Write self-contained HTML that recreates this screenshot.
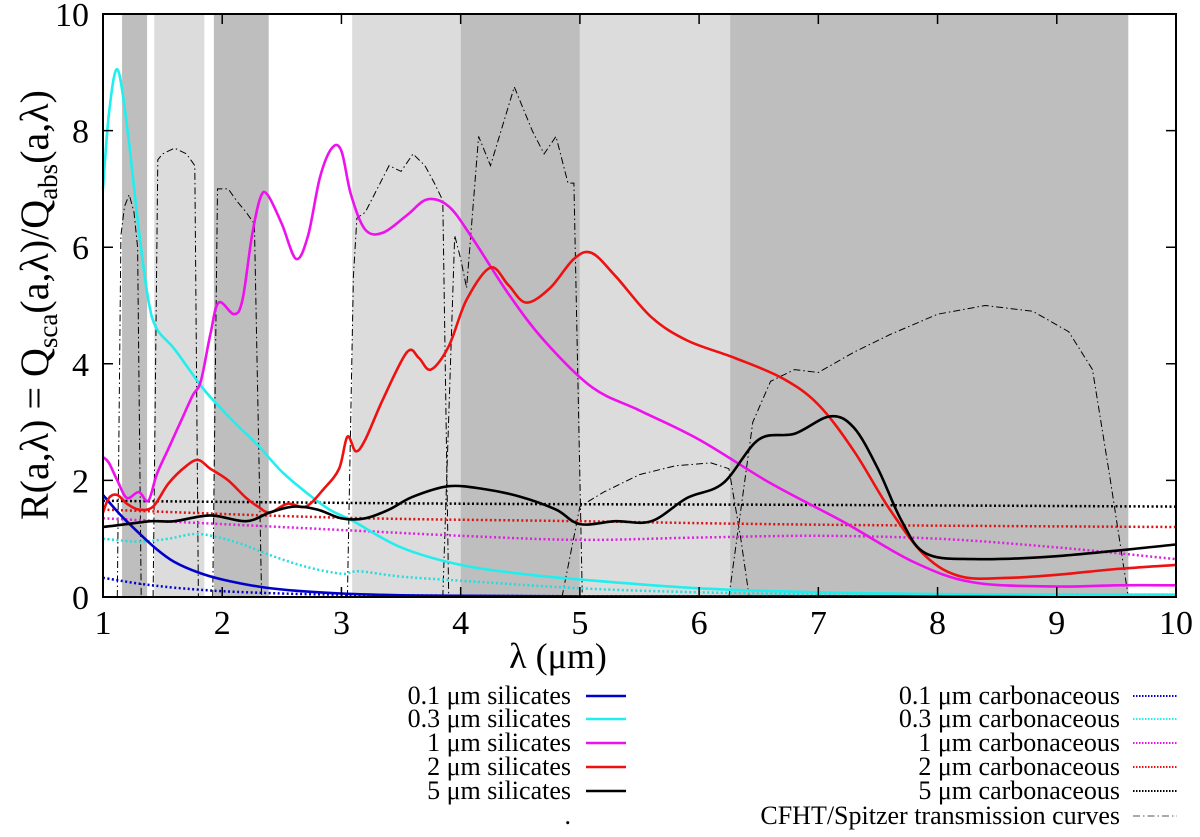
<!DOCTYPE html>
<html><head><meta charset="utf-8"><style>
html,body{margin:0;padding:0;background:#fff;}
svg, svg text{font-family:"Liberation Serif","DejaVu Serif",serif;}
</style></head><body>
<svg id="chart" width="1200" height="832" viewBox="0 0 1200 832" xmlns="http://www.w3.org/2000/svg" font-family="Liberation Serif, DejaVu Serif, serif">
<g id="bands"></g>
<g id="trans"></g>
<g id="series"></g>
<g id="axes"></g>
<text x="558" y="668" font-size="36" text-anchor="middle" font-family="Liberation Serif, serif">λ (μm)</text>
<text transform="translate(48,305) rotate(-90)" font-size="40" text-anchor="middle" font-family="Liberation Serif, serif">R(a,λ) = Q<tspan font-size="27" dy="9">sca</tspan><tspan dy="-9">(a,λ)/Q</tspan><tspan font-size="27" dy="9">abs</tspan><tspan dy="-9">(a,λ)</tspan></text>
<g id="legend"></g>
</svg>
<script>
const X0=103,X1=1176,Y0=597,Y1=14;
const sx=v=>X0+(v-1)/9*(X1-X0);
const sy=v=>Y0-v/10*(Y0-Y1);
const NS="http://www.w3.org/2000/svg";
function mk(tag,attrs,parent){const e=document.createElementNS(NS,tag);for(const k in attrs)e.setAttribute(k,attrs[k]);parent.appendChild(e);return e;}

// band data
const bandStarts=[1.16,1.43,1.93,3.09,4.0,5.0,6.26];
const bandEnds=[1.37,1.85,2.39,4.0,5.0,6.26,9.6];
const bandShades=["dark","light","dark","light","dark","light","dark"];

const xTicks=[1,2,3,4,5,6,7,8,9,10];
const yTicks=[0,2,4,6,8,10];

const sil01X=[1,1.15,1.3,1.45,1.6,1.8,2.0,2.3,2.6,3,3.5,4,5,7,10];
const sil01Y=[1.75,1.4,1.1,0.82,0.6,0.42,0.3,0.18,0.11,0.06,0.03,0.02,0.01,0.01,0.01];
const sil03X=[1,1.05,1.12,1.2,1.3,1.38,1.45,1.6,1.85,2.1,2.3,2.5,2.7,2.9,3.1,3.5,4,4.5,5,6,7,8,9,10];
const sil03Y=[7.0,8.3,9.05,8.1,6.3,5.1,4.6,4.25,3.55,3.0,2.6,2.15,1.8,1.5,1.3,0.85,0.55,0.4,0.3,0.15,0.08,0.05,0.04,0.04];
const sil1X=[1,1.05,1.12,1.2,1.3,1.38,1.45,1.55,1.65,1.75,1.82,1.9,1.97,2.1,2.17,2.25,2.32,2.38,2.5,2.62,2.72,2.82,2.92,3.0,3.08,3.2,3.35,3.55,3.72,3.9,4.1,4.4,4.7,5.1,5.5,6,6.6,7.2,7.8,8.3,9,9.5,10];
const sil1Y=[2.4,2.3,2.0,1.7,1.8,1.65,2.1,2.55,3.0,3.45,3.7,4.5,5.05,4.85,5.1,6.2,6.85,6.9,6.4,5.8,6.2,7.2,7.7,7.65,6.9,6.3,6.25,6.55,6.82,6.7,6.15,5.2,4.4,3.6,3.2,2.7,1.95,1.3,0.6,0.25,0.18,0.2,0.2];
const sil2X=[1,1.05,1.12,1.2,1.3,1.42,1.55,1.7,1.8,1.9,2.05,2.2,2.3,2.4,2.55,2.7,2.85,2.98,3.05,3.12,3.2,3.35,3.55,3.65,3.75,3.9,4.05,4.25,4.4,4.55,4.75,4.95,5.1,5.3,5.6,5.9,6.3,6.7,7.0,7.3,7.6,7.9,8.2,8.6,9,9.5,10];
const sil2Y=[1.45,1.7,1.75,1.6,1.5,1.55,1.95,2.25,2.35,2.2,2.0,1.7,1.55,1.45,1.6,1.55,1.85,2.2,2.75,2.5,2.7,3.4,4.2,4.1,3.9,4.3,5.1,5.65,5.35,5.05,5.3,5.8,5.9,5.5,4.8,4.4,4.1,3.75,3.3,2.5,1.5,0.7,0.35,0.33,0.38,0.48,0.55];
const sil5X=[1,1.2,1.4,1.6,1.9,2.2,2.4,2.6,2.8,3.0,3.2,3.4,3.6,3.9,4.2,4.5,4.8,5.0,5.3,5.6,5.9,6.2,6.5,6.8,7.1,7.3,7.5,7.7,7.9,8.3,9,10];
const sil5Y=[1.2,1.25,1.3,1.3,1.4,1.3,1.45,1.55,1.5,1.35,1.35,1.5,1.72,1.9,1.85,1.72,1.5,1.25,1.3,1.3,1.7,1.95,2.7,2.8,3.1,2.9,2.2,1.3,0.75,0.65,0.7,0.9];
const car01X=[1,1.3,1.6,2.0,2.5,3,4,6,10];
const car01Y=[0.33,0.23,0.16,0.1,0.06,0.04,0.02,0.01,0.01];
const car03X=[1,1.3,1.55,1.8,2.1,2.4,2.7,3.0,3.15,3.5,4,5,6,7,8,10];
const car03Y=[1.0,0.95,1.0,1.08,0.95,0.72,0.52,0.4,0.44,0.35,0.28,0.15,0.08,0.05,0.05,0.04];
const car1X=[1,2,3,4,5,6,7,8,9,10];
const car1Y=[1.35,1.25,1.15,1.05,0.98,1.02,1.05,1.0,0.85,0.65];
const car2X=[1,3,5,7,10];
const car2Y=[1.5,1.36,1.3,1.24,1.2];
const car5X=[1,4,7,10];
const car5Y=[1.65,1.6,1.58,1.55];

const tJX=[1.12,1.15,1.18,1.22,1.26,1.29,1.32];
const tJY=[0,6.2,6.7,6.9,6.6,6.0,0];
const tHX=[1.42,1.46,1.5,1.6,1.7,1.77,1.8];
const tHY=[0,7.5,7.6,7.7,7.6,7.4,0];
const tKX=[1.92,1.96,2.05,2.12,2.2,2.27,2.33];
const tKY=[0,7.0,7.0,6.8,6.6,6.4,0];
const tI1X=[3.05,3.1,3.13,3.2,3.3,3.4,3.5,3.6,3.7,3.78,3.85,3.9];
const tI1Y=[0,5.5,6.5,6.6,7.0,7.4,7.3,7.6,7.4,7.1,6.8,0];
const tI2X=[3.85,3.95,4.0,4.05,4.15,4.25,4.45,4.6,4.7,4.8,4.9,4.95,5.02];
const tI2Y=[0,6.2,5.8,5.3,7.9,7.4,8.75,8.0,7.6,7.9,7.1,7.1,0];
const tI3X=[4.85,5.0,5.2,5.5,5.8,6.1,6.25,6.35,6.42];
const tI3Y=[0,1.55,1.8,2.1,2.25,2.3,2.2,1.0,0];
const tI4X=[6.25,6.45,6.6,6.8,7.0,7.3,7.6,8.0,8.4,8.8,9.1,9.3,9.45,9.6];
const tI4Y=[0,3.0,3.7,3.9,3.85,4.2,4.5,4.85,5.0,4.9,4.55,3.9,2.0,0];

const bg=document.getElementById('bands');
bandStarts.forEach((s,i)=>{
  const r=mk('rect',{x:sx(s),y:Y1,width:sx(bandEnds[i])-sx(s),height:Y0-Y1,fill:bandShades[i]==='dark'?'#bebebe':'#dcdcdc'},bg);
  
  
});

function smooth(xs,ys){
  const p=xs.map((x,i)=>[sx(x),sy(ys[i])]);
  let d=`M${p[0][0].toFixed(1)},${p[0][1].toFixed(1)}`;
  for(let i=0;i<p.length-1;i++){
    const p0=p[i-1]||p[i],p1=p[i],p2=p[i+1],p3=p[i+2]||p2;
    const c1=[p1[0]+(p2[0]-p0[0])/6,p1[1]+(p2[1]-p0[1])/6];
    const c2=[p2[0]-(p3[0]-p1[0])/6,p2[1]-(p3[1]-p1[1])/6];
    d+=`C${c1[0].toFixed(1)},${c1[1].toFixed(1)} ${c2[0].toFixed(1)},${c2[1].toFixed(1)} ${p2[0].toFixed(1)},${p2[1].toFixed(1)}`;
  }
  return d;
}
function lin(xs,ys){return xs.map((x,i)=>(i?'L':'M')+sx(x).toFixed(1)+','+sy(ys[i]).toFixed(1)).join('');}

const tg=document.getElementById('trans');
[[tJX,tJY],[tHX,tHY],[tKX,tKY],[tI1X,tI1Y],[tI2X,tI2Y],[tI3X,tI3Y],[tI4X,tI4Y]].forEach(([xs,ys])=>{
  const e=mk('path',{d:lin(xs,ys),fill:'none',stroke:'#000','stroke-width':1,'stroke-dasharray':'7,3,1.5,3'},tg);
  
  
});

const sg=document.getElementById('series');
const dotted=[[car01X,car01Y,'#0000cc'],[car03X,car03Y,'#22dddd'],[car1X,car1Y,'#dd22dd'],[car2X,car2Y,'#dd1111'],[car5X,car5Y,'#000']];
dotted.forEach(([xs,ys,c])=>{
  const e=mk('path',{d:smooth(xs,ys),fill:'none',stroke:c,'stroke-width':2.5,'stroke-dasharray':'2,2.5'},sg);
  
  
});
const solid=[[sil01X,sil01Y,'#0000cc'],[sil03X,sil03Y,'#22eeee'],[sil1X,sil1Y,'#ee11ee'],[sil2X,sil2Y,'#ee1111'],[sil5X,sil5Y,'#000']];
solid.forEach(([xs,ys,c])=>{
  const e=mk('path',{d:smooth(xs,ys),fill:'none',stroke:c,'stroke-width':2.6},sg);
  
  
});

const FF='Liberation Serif, DejaVu Serif, serif';
const ag=document.getElementById('axes');
const fr=mk('rect',{x:X0,y:Y1,width:X1-X0,height:Y0-Y1,fill:'none',stroke:'#000','stroke-width':2},ag);


xTicks.forEach(v=>{
  mk('path',{d:`M${sx(v)},${Y0}v-10M${sx(v)},${Y1}v10`,stroke:'#000','stroke-width':1.5},ag);
  const t=mk('text',{x:sx(v),y:634,'font-size':34,'text-anchor':'middle','font-family':FF},ag);
  t.textContent=v;
  
  
});
yTicks.forEach(v=>{
  mk('path',{d:`M${X0},${sy(v)}h10M${X1},${sy(v)}h-10`,stroke:'#000','stroke-width':1.5},ag);
  const t=mk('text',{x:89,y:sy(v)+12,'font-size':34,'text-anchor':'end','font-family':FF},ag);
  t.textContent=v;
  
  
});

const lg=document.getElementById('legend');
const leftLabels=["0.1 μm silicates","0.3 μm silicates","1 μm silicates","2 μm silicates","5 μm silicates","."];
const rightLabels=["0.1 μm carbonaceous","0.3 μm carbonaceous","1 μm carbonaceous","2 μm carbonaceous","5 μm carbonaceous","CFHT/Spitzer transmission curves"];
const legColors=['#0000cc','#22eeee','#ee11ee','#ee1111','#000'];
const rowY=[696,719,743,767,791,816];
leftLabels.forEach((s,i)=>{
  const t=mk('text',{x:571,y:rowY[i]+8,'font-size':26,'text-anchor':'end','font-family':FF},lg);
  t.textContent=s;
  
  
  if(i<5) mk('line',{x1:586,x2:626,y1:rowY[i],y2:rowY[i],stroke:legColors[i],'stroke-width':2.6},lg);
});
rightLabels.forEach((s,i)=>{
  const t=mk('text',{x:1120,y:rowY[i]+8,'font-size':26,'text-anchor':'end','font-family':FF},lg);
  t.textContent=s;
  
  
  if(i<5) mk('line',{x1:1133,x2:1177,y1:rowY[i],y2:rowY[i],stroke:legColors[i],'stroke-width':2,'stroke-dasharray':'1.5,1.5'},lg);
  else mk('line',{x1:1133,x2:1177,y1:rowY[i],y2:rowY[i],stroke:'#555','stroke-width':1,'stroke-dasharray':'7,3,1.5,3'},lg);
});
</script>
</body></html>
